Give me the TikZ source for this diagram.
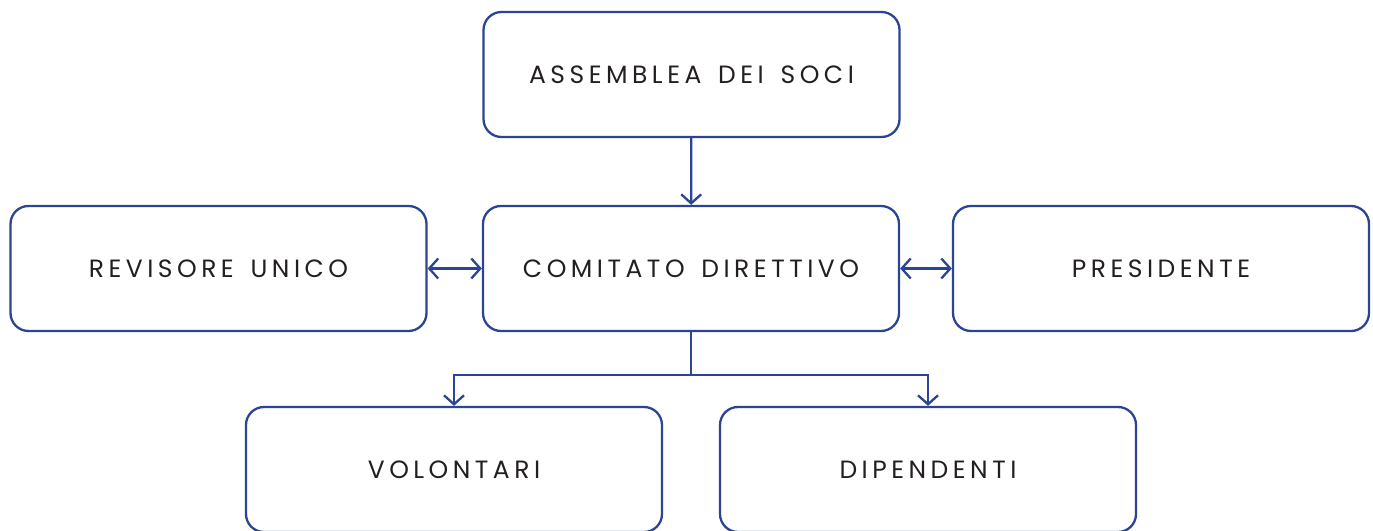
\documentclass[tikz,border=0pt]{standalone}
\usepackage{fontspec}
\setmainfont{Poppins}[LetterSpace=18, WordSpace=1.5]
\usetikzlibrary{positioning, arrows.meta}
\definecolor{orgblue}{HTML}{2B4594}
\definecolor{orgtext}{HTML}{231F20}
\tikzset{organo/.style={draw=orgblue, line width=2.3pt, rounded corners=18pt, minimum width=416pt, minimum height=125pt, inner sep=0pt, text=orgtext, font=\fontsize{25}{28}\selectfont},
         link/.style={draw=orgblue, line width=2.3pt, arrows={-Straight Barb[length=9pt,width=20pt]}},
         twoway/.style={link, arrows={Straight Barb[length=9pt,width=20pt]-Straight Barb[length=9pt,width=20pt]}},
        }

\begin{document}
\begin{tikzpicture}[x=1pt,y=-1pt]
        \useasboundingbox (0,0) rectangle (1373,530);
        \node[organo](assemblea)at(691.5,74.5){ASSEMBLEA DEI SOCI};
        \node[organo](comitato)at(691,268.5){COMITATO DIRETTIVO};
        \node[organo](revisore)at(218.5,268.5){REVISORE UNICO};
        \node[organo](presidente)at(1161,268.5){PRESIDENTE};
        \node[organo](volontari)at(454,469.5){VOLONTARI};
        \node[organo](dipendenti)at(928,469.5){DIPENDENTI};

        \draw[link](assemblea)--(comitato);
        \draw[twoway](revisore)--(comitato);
        \draw[twoway](comitato)--(presidente);

        \coordinate(bar)at(691,375);
        \draw[link, arrows=-](comitato)--(bar);
        \draw[link](bar)-|(volontari);
        \draw[link](bar)-|(dipendenti);
    \end{tikzpicture}
\end{document}
